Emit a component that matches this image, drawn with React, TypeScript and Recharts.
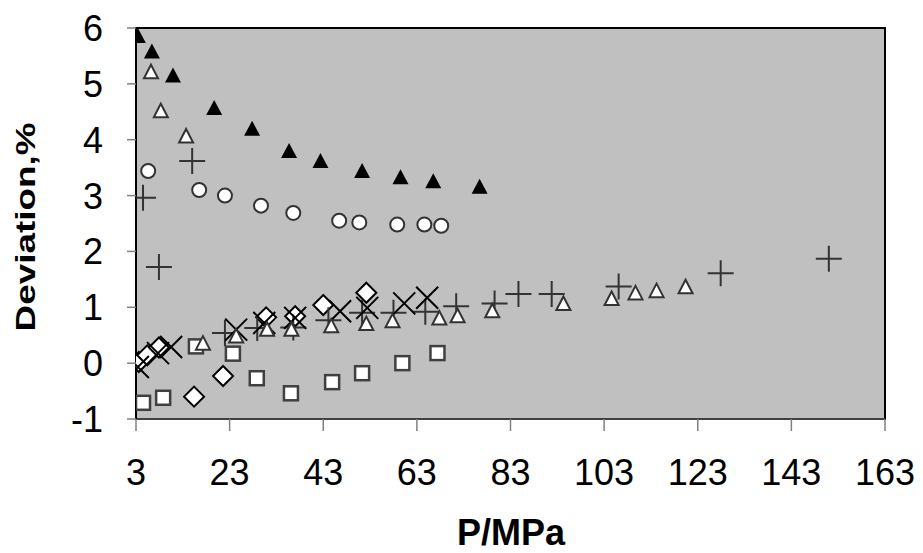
import React from "react";
import {
  ScatterChart, Scatter, XAxis, YAxis, ReferenceArea,
} from "recharts";

// values
const X_TICKS = [3, 23, 43, 63, 83, 103, 123, 143, 163];
const Y_TICKS = [-1, 0, 1, 2, 3, 4, 5, 6];

const BLACK_TRI_X = [3.4, 6.4, 10.9, 19.7, 27.8, 35.7, 42.4, 51.3, 59.5, 66.5, 76.4];
const BLACK_TRI_Y = [5.84, 5.56, 5.13, 4.55, 4.18, 3.78, 3.6, 3.42, 3.31, 3.24, 3.14];

const OPEN_TRI_X = [6.2, 8.3, 13.7, 17.3, 24.4, 31.0, 36.2, 44.7, 52.2, 57.8, 67.8, 71.7, 79.1, 94.3, 104.6, 109.7, 114.2, 120.4];
const OPEN_TRI_Y = [5.2, 4.5, 4.05, 0.34, 0.47, 0.59, 0.59, 0.65, 0.69, 0.74, 0.79, 0.83, 0.92, 1.05, 1.14, 1.24, 1.28, 1.35];

const CIRCLE_X = [5.6, 16.5, 22.0, 29.7, 36.6, 46.4, 50.7, 58.8, 64.6, 68.2];
const CIRCLE_Y = [3.44, 3.1, 3.0, 2.82, 2.69, 2.55, 2.52, 2.48, 2.48, 2.46];

const PLUS_X = [4.5, 7.9, 15.0, 22.0, 28.9, 36.6, 44.1, 51.3, 58.0, 64.8, 71.4, 79.6, 84.7, 91.8, 106.1, 127.9, 151.0];
const PLUS_Y = [2.96, 1.72, 3.62, 0.54, 0.63, 0.64, 0.77, 0.9, 0.9, 0.92, 1.02, 1.07, 1.24, 1.24, 1.37, 1.61, 1.87];

const CROSS_X = [3.4, 7.7, 10.5, 24.4, 30.4, 37.0, 46.6, 52.4, 60.3, 65.2];
const CROSS_Y = [-0.07, 0.18, 0.29, 0.6, 0.72, 0.81, 0.93, 0.99, 1.07, 1.17];

const DIAMOND_X = [3.6, 5.4, 7.9, 15.4, 21.6, 30.8, 37.0, 43.0, 52.2];
const DIAMOND_Y = [0.02, 0.14, 0.28, -0.6, -0.23, 0.82, 0.84, 1.04, 1.26];

const SQUARE_X = [4.5, 8.8, 15.8, 23.7, 28.8, 36.1, 44.9, 51.3, 59.9, 67.4];
const SQUARE_Y = [-0.71, -0.62, 0.3, 0.17, -0.27, -0.54, -0.34, -0.18, 0.0, 0.18];

const pts = (xs: number[], ys: number[]) => xs.map((x, i) => ({ x, y: ys[i] }));

const FONT = "Arial, 'Liberation Sans', sans-serif";

// eslint-disable-next-line @typescript-eslint/no-explicit-any
const blackTri = ({ cx, cy }: any) => (
  <path d={`M${cx},${cy - 9} L${cx + 8},${cy + 6} L${cx - 8},${cy + 6} Z`} fill="#000" />
);
// eslint-disable-next-line @typescript-eslint/no-explicit-any
const openTri = ({ cx, cy }: any) => (
  <path d={`M${cx},${cy - 8} L${cx + 7},${cy + 5.5} L${cx - 7},${cy + 5.5} Z`} fill="#fff" stroke="#333" strokeWidth={2} />
);
// eslint-disable-next-line @typescript-eslint/no-explicit-any
const circle = ({ cx, cy }: any) => (
  <circle cx={cx} cy={cy} r={7} fill="#fff" stroke="#333" strokeWidth={2} />
);
// eslint-disable-next-line @typescript-eslint/no-explicit-any
const plus = ({ cx, cy }: any) => (
  <path d={`M${cx - 13},${cy} H${cx + 13} M${cx},${cy - 13} V${cy + 13}`} stroke="#333" strokeWidth={2} fill="none" />
);
// eslint-disable-next-line @typescript-eslint/no-explicit-any
const cross = ({ cx, cy }: any) => (
  <path d={`M${cx - 11},${cy - 11} L${cx + 11},${cy + 11} M${cx + 11},${cy - 11} L${cx - 11},${cy + 11}`} stroke="#000" strokeWidth={2} fill="none" />
);
// eslint-disable-next-line @typescript-eslint/no-explicit-any
const diamond = ({ cx, cy }: any) => (
  <path d={`M${cx},${cy - 10} L${cx + 10},${cy} L${cx},${cy + 10} L${cx - 10},${cy} Z`} fill="#fff" stroke="#000" strokeWidth={2} />
);
// eslint-disable-next-line @typescript-eslint/no-explicit-any
const square = ({ cx, cy }: any) => (
  <rect x={cx - 7} y={cy - 7} width={14} height={14} fill="#fff" stroke="#404040" strokeWidth={2.5} />
);

// eslint-disable-next-line @typescript-eslint/no-explicit-any
const XTick = ({ x, y, payload }: any) => (
  <text x={x} y={y} dy={46} textAnchor="middle" fontSize={36} fontFamily={FONT} fill="#000">{payload.value}</text>
);
// eslint-disable-next-line @typescript-eslint/no-explicit-any
const YTick = ({ x, y, payload }: any) => (
  <text x={x} y={y} dy={13} textAnchor="end" fontSize={36} fontFamily={FONT} fill="#000">{payload.value}</text>
);

export default function App() {
  return (
    <div style={{ position: "absolute", left: 0, top: 0, width: 923, height: 553, background: "#fff" }}>
      <ScatterChart width={923} height={553} margin={{ top: 28, right: 38, left: 56, bottom: 74 }}>
        <ReferenceArea x1={3} x2={163} y1={-1} y2={6} fill="#C0C0C0" fillOpacity={1} stroke="#000" strokeWidth={2} />
        <XAxis type="number" dataKey="x" domain={[3, 163]} ticks={X_TICKS} interval={0} height={60}
          axisLine={{ stroke: "#404040", strokeWidth: 2 }} tickLine={{ stroke: "#808080", strokeWidth: 1.5 }}
          tickSize={12} tickMargin={8} tick={<XTick />} allowDataOverflow />
        <YAxis type="number" dataKey="y" domain={[-1, 6]} ticks={Y_TICKS} interval={0} width={80}
          axisLine={{ stroke: "#000", strokeWidth: 2 }} tickLine={{ stroke: "#808080", strokeWidth: 1.5 }}
          tickSize={9} tickMargin={24} tick={<YTick />} allowDataOverflow />
        <Scatter data={pts(SQUARE_X, SQUARE_Y)} shape={square} isAnimationActive={false} />
        <Scatter data={pts(DIAMOND_X, DIAMOND_Y)} shape={diamond} isAnimationActive={false} />
        <Scatter data={pts(PLUS_X, PLUS_Y)} shape={plus} isAnimationActive={false} />
        <Scatter data={pts(CROSS_X, CROSS_Y)} shape={cross} isAnimationActive={false} />
        <Scatter data={pts(OPEN_TRI_X, OPEN_TRI_Y)} shape={openTri} isAnimationActive={false} />
        <Scatter data={pts(CIRCLE_X, CIRCLE_Y)} shape={circle} isAnimationActive={false} />
        <Scatter data={pts(BLACK_TRI_X, BLACK_TRI_Y)} shape={blackTri} isAnimationActive={false} />
      </ScatterChart>
      <svg width={923} height={553} style={{ position: "absolute", left: 0, top: 0, pointerEvents: "none" }}>
        <text transform="translate(35,227) rotate(-90)" textAnchor="middle" fontSize={28} fontWeight="bold"
          fontFamily={FONT} textLength={209} lengthAdjust="spacingAndGlyphs" fill="#000">Deviation,%</text>
        <text x={511} y={545} textAnchor="middle" fontSize={36} fontWeight="bold" fontFamily={FONT} fill="#000">P/MPa</text>
      </svg>
    </div>
  );
}
